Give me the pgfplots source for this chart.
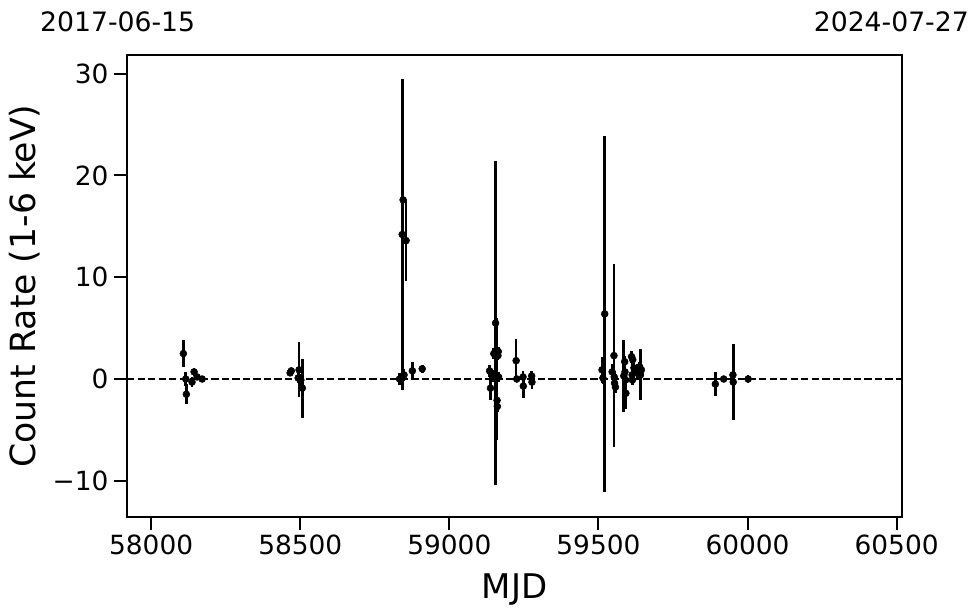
\documentclass[border=0pt]{standalone}
\usepackage{fontspec}
\setmainfont{DejaVu Sans}
\usepackage{pgfplots}
\pgfplotsset{compat=1.18}
\usepackage{pgfplotstable}
\pgfplotstableread{
x y e
58108 2.5 1.3
58116 0.0 0.7
58118 -1.5 1.0
58137 -0.3 0.5
58144 0.7 0.4
58154 0.2 0.3
58171 0.0 0.3
58466 0.6 0.3
58470 0.8 0.3
58493 0.1 0.5
58496 0.9 2.7
58502 -0.1 0.6
58507 -0.9 2.9
58833 0.0 0.6
58842 14.2 15.3
58845 17.6 0.4
58855 13.6 4.0
58848 0.4 0.6
58876 0.8 0.9
58909 1.0 0.4
59135 0.8 0.6
59138 -0.9 1.2
59145 0.3 0.6
59149 2.5 0.5
59155 5.5 15.9
59158 0.0 6.0
59160 -2.1 0.6
59161 -2.7 0.5
59164 2.7 0.4
59163 2.3 0.4
59165 0.2 0.5
59224 1.8 2.1
59226 0.0 0.3
59247 0.2 0.6
59248 -0.7 1.2
59276 0.3 0.5
59277 -0.3 0.7
59512 0.9 1.3
59515 0.1 0.6
59521 6.4 17.5
59546 0.7 0.8
59552 2.3 9.0
59553 0.2 0.6
59554 -0.4 0.5
59557 -0.8 0.6
59585 0.3 3.5
59588 1.7 0.6
59589 0.7 0.5
59591 -0.1 0.6
59592 -1.4 1.5
59611 2.2 0.6
59615 1.9 0.6
59619 1.1 0.5
59613 0.4 0.7
59614 -0.1 0.5
59629 0.7 0.8
59638 1.2 0.5
59641 0.4 2.5
59644 0.9 0.5
59892 -0.5 1.2
59920 0.0 0.3
59951 0.4 0.5
59952 -0.3 3.7
60002 0.0 0.4
}\datatable
\begin{document}
\begin{tikzpicture}
\useasboundingbox (-95.25pt,-72pt) rectangle (639.75pt,387.75pt);
\begin{axis}[
 at={(0pt,0pt)}, anchor=south west,
 width=581.25pt, height=346.5pt, scale only axis,
 xmin=57919, xmax=60518, ymin=-13.56, ymax=31.84,
 xtick={58000,58500,59000,59500,60000,60500},
 xticklabels={58000,58500,59000,59500,60000,60500},
 scaled x ticks=false, scaled y ticks=false,
 ytick={-10,0,10,20,30},
 yticklabels={−10,0,10,20,30},
 tick pos=left, tick align=outside,
 major tick length=9.75pt,
 every tick/.style={black, line width=1.5pt},
 axis line style={line width=0.9pt},
 ticklabel style={font=\fontsize{19.8}{20}\selectfont},
 yticklabel style={inner xsep=4pt},
 clip=false,
]
\addplot[black, line width=1.3pt, dash pattern=on 5.5pt off 2.4pt] coordinates {(57919,0) (60518,0)};
\addplot[only marks, mark=*, mark size=2.6pt, black,
  error bars/.cd, y dir=both, y explicit, error mark=none,
  error bar style={line width=2pt, black}]
  table[x=x, y=y, y error=e] {\datatable};
\node[xshift=-68.25pt, anchor=base, rotate=90, font=\fontsize{26}{27}\selectfont] at (rel axis cs:0,0.5) {Count Rate (1-6 keV)};
\node[yshift=-60.75pt, anchor=base, font=\fontsize{25.5}{26}\selectfont] at (rel axis cs:0.5,0) {MJD};
\node[yshift=17.25pt, xshift=-7pt, anchor=base, font=\fontsize{20}{21}\selectfont] at (rel axis cs:0,1) {2017-06-15};
\node[yshift=17.25pt, xshift=-8pt, anchor=base, font=\fontsize{20}{21}\selectfont] at (rel axis cs:1,1) {2024-07-27};
\end{axis}
\end{tikzpicture}
\end{document}
